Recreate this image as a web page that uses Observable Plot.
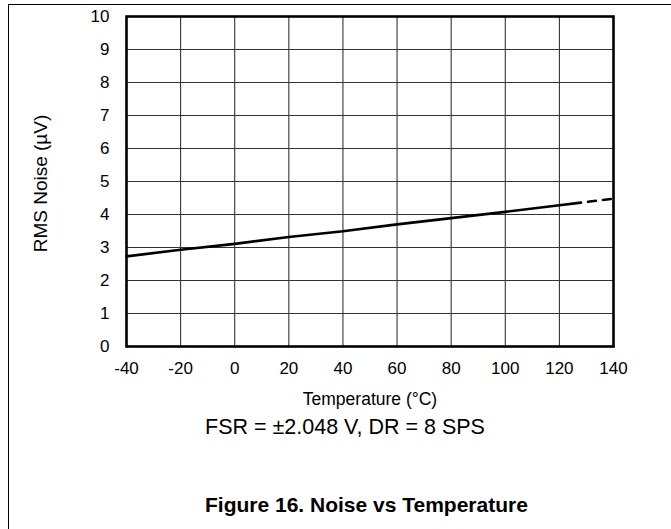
<!DOCTYPE html>
<html>
<head>
<meta charset="utf-8">
<script src="https://cdn.jsdelivr.net/npm/d3@7"></script>
<script src="https://cdn.jsdelivr.net/npm/@observablehq/plot@0.6"></script>
<style>
  html, body { margin: 0; padding: 0; background: #fff; }
  #wrap { position: relative; width: 671px; height: 529px; overflow: hidden; background: #fff;
          font-family: "Liberation Sans", Arial, sans-serif; color: #000; }
  #border { position: absolute; left: 8px; top: 4px; width: 700px; height: 600px;
            border-top: 1.5px solid #000; border-left: 1.5px solid #000; }
  #chart { position: absolute; left: 0; top: 0; }
  .cap { position: absolute; left: 0; white-space: nowrap; line-height: 1; }
  #cond { top: 417px; left: 205px; font-size: 21.5px; }
  #title { top: 494px; left: 205px; font-size: 21px; font-weight: bold; }
</style>
</head>
<body>
<div id="wrap">
  <div id="border"></div>
  <div id="chart"></div>
  <div class="cap" id="cond">FSR = ±2.048 V, DR = 8 SPS</div>
  <div class="cap" id="title">Figure 16. Noise vs Temperature</div>
</div>
<script>
const xTicks = [-40, -20, 0, 20, 40, 60, 80, 100, 120, 140];
const yTicks = [0, 1, 2, 3, 4, 5, 6, 7, 8, 9, 10];

// measured curve (solid part)
const tempSolid = [-40, -20, 0, 20, 40, 60, 80, 100, 120, 128];
const noiseSolid = [2.73, 2.93, 3.11, 3.32, 3.49, 3.70, 3.89, 4.08, 4.28, 4.36];
// extrapolated (dashed) part
const tempDashed = [128, 140];
const noiseDashed = [4.36, 4.48];

const xLabel = "Temperature (°C)";
const yLabel = "RMS Noise (µV)";

const solid = tempSolid.map((t, i) => ({t, n: noiseSolid[i]}));
const dashed = tempDashed.map((t, i) => ({t, n: noiseDashed[i]}));

const chart = Plot.plot({
  width: 671,
  height: 410,
  marginTop: 16,
  marginLeft: 126,
  marginRight: 58,
  marginBottom: 64,
  style: {fontFamily: '"Liberation Sans", Arial, sans-serif', fontSize: "17px", color: "#000", background: "transparent", overflow: "visible"},
  x: {domain: [-40, 140], ticks: xTicks, tickSize: 0, tickPadding: 15, label: null, tickFormat: d => String(d)},
  y: {domain: [0, 10], ticks: yTicks, tickSize: 0, tickPadding: 17, label: null, tickFormat: d => String(d)},
  marks: [
    Plot.gridX(xTicks, {stroke: "#222", strokeOpacity: 1, strokeWidth: 1}),
    Plot.gridY(yTicks, {stroke: "#333", strokeOpacity: 1, strokeWidth: 1}),
    Plot.line(solid, {x: "t", y: "n", stroke: "#000", strokeWidth: 2.6}),
    Plot.line(dashed, {x: "t", y: "n", stroke: "#000", strokeWidth: 2.6, strokeDasharray: "8,7", strokeDashoffset: 8}),
    Plot.frame({stroke: "#000", strokeWidth: 2.6}),
    Plot.text([xLabel], {text: d => d, frameAnchor: "bottom", lineAnchor: "middle", textAnchor: "middle", dy: 53, fontSize: 17.5}),
    Plot.text([yLabel], {text: d => d, frameAnchor: "left", lineAnchor: "middle", textAnchor: "middle", dx: -86, dy: 2, rotate: -90, fontSize: 19})
  ]
});
document.getElementById("chart").appendChild(chart);
</script>
</body>
</html>
